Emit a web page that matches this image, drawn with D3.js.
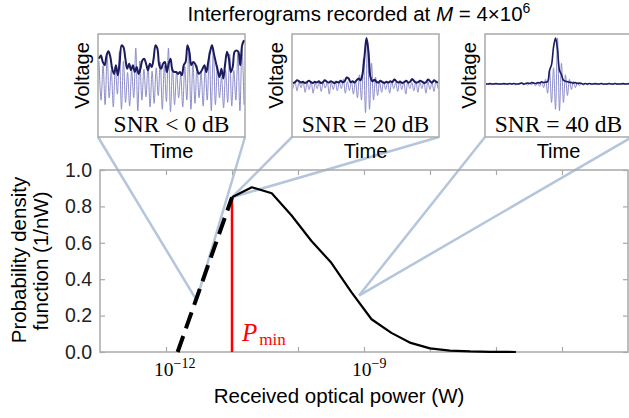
<!DOCTYPE html>
<html>
<head>
<meta charset="utf-8">
<script src="https://cdn.jsdelivr.net/npm/d3@7"></script>
<style>
  body { margin: 0; background: #fff; }
  text { font-family: "Liberation Sans", Arial, sans-serif; }
  .serif { font-family: "Liberation Serif", "Times New Roman", serif; }
</style>
</head>
<body>
<script>
// main curve: probability density vs received power
var powerSolid = [1e-11, 2e-11, 4e-11, 8e-11, 1.6e-10, 3.2e-10, 6.4e-10, 1.3e-9, 2.6e-9, 5.1e-9, 1e-8, 2e-8, 4.1e-8, 8.2e-8, 2e-7];
var pdfSolid = [0.85, 0.905, 0.872, 0.75, 0.61, 0.49, 0.33, 0.18, 0.105, 0.05, 0.02, 0.008, 0.003, 0.001, 0.0];
var powerDashed = [1.5e-12, 1e-11];
var pdfDashed = [0.0, 0.85];
var pMin = 1e-11;
var pMinPdf = 0.85;

var xTickValues = [1e-12, 1e-11, 1e-10, 1e-9, 1e-8, 1e-7, 1e-6];
var xTickLabels = {'1e-12': '\u221212', '1e-9': '\u22129', '1e-6': '\u22126'};
var yTickValues = [0, 0.2, 0.4, 0.6, 0.8, 1.0];

// where each inset points to on the curve
var markerPower = [2.9e-12, 1e-11, 8.4e-10];
var markerPdf = [0.285, 0.85, 0.31];
var insetLabels = ['SNR < 0 dB', 'SNR = 20 dB', 'SNR = 40 dB'];

// interferogram traces (voltage, arb.)
var snr0Envelope = [0.55,0.62,0.48,0.41,0.62,0.71,0.59,0.33,0.22,0.41,0.19,0.48,0.84,0.80,0.55,0.33,0.44,0.30,0.41,0.26,0.37,0.22,0.33,0.51,0.55,0.44,0.30,0.44,0.37,0.55,0.84,0.77,0.41,0.33,0.44,0.48,0.26,0.44,0.55,
  0.30,0.26,0.26,0.22,0.26,0.19,0.41,0.48,0.84,0.70,0.41,0.48,0.44,0.33,0.22,0.26,0.33,0.41,0.26,0.48,0.70,0.84,0.66,0.48,0.30,0.15,0.33,0.12,0.44,0.70,0.55,0.26,0.37,0.70,0.73,0.70,0.41,0.84,0.95];
var snr0Fringe = [0.50,-0.35,0.40,-0.45,0.62,-0.30,0.30,-0.50,0.38,-0.22,0.70,-0.55,0.50,-0.40,0.25,-0.48,0.30,-0.30,0.78,-0.58,0.50,-0.35,0.32,-0.28,0.40,-0.50,0.28,-0.42,0.35,-0.25,0.48,-0.55,0.40,-0.38,0.78,-0.60,
  0.35,-0.45,0.28,-0.30,0.20,-0.50,0.38,-0.35,0.78,-0.55,0.45,-0.42,0.40,-0.30,0.25,-0.48,0.35,-0.35,0.70,-0.58,0.78,-0.45,0.40,-0.30,0.15,-0.52,0.30,-0.40,0.65,-0.48,0.30,-0.35,0.68,-0.58,0.80,-0.45];
var snr20Envelope = [0.02,0.04,0.08,0.06,0.03,0.05,0.02,0.04,0.07,0.04,0.02,0.05,0.03,0.06,0.02,0.04,0.08,0.05,0.03,0.06,
  0.04,0.02,0.05,0.03,0.07,0.04,0.06,0.14,0.12,0.04,0.06,0.03,0.08,0.12,0.08,0.22,0.60,1.00,0.70,0.15,
  0.06,0.09,0.05,0.03,0.07,0.04,0.02,0.05,0.03,0.06,0.04,0.10,0.06,0.03,0.05,0.02,0.04,0.07,0.03,0.05,
  0.11,0.06,0.03,0.04,0.07,0.05,0.02,0.04,0.10,0.06,0.03,0.08,0.05,0.03];
var snr20Fringe = [-0.10,0.05,-0.15,0.04,-0.08,0.06,-0.18,0.03,-0.12,0.05,-0.20,0.02,-0.10,0.06,-0.16,0.04,-0.09,0.05,-0.22,0.03,
  -0.12,0.07,-0.15,0.04,-0.10,0.10,-0.20,0.05,-0.14,0.06,-0.22,0.08,-0.30,0.20,-0.35,0.55,-0.62,0.95,-0.55,0.45,
  -0.35,0.15,-0.25,0.05,-0.18,0.06,-0.12,0.04,-0.20,0.05,-0.10,0.03,-0.16,0.08,-0.12,0.04,-0.22,0.05,-0.10,0.03,
  -0.15,0.07,-0.18,0.04,-0.10,0.06,-0.20,0.05,-0.12,0.03,-0.16,0.06,-0.10];
var snr40Envelope = [0,0,0.01,0,0,0.01,0,0,0,0.01,0,0,0.01,0,0.01,0,0,0.01,0.02,0,
  0.01,0.02,0.01,0.03,0.02,0.01,0.03,0.02,0.05,0.03,0.04,0.05,0.30,0.42,0.80,1.00,0.75,0.30,0.20,0.08,
  0.06,0.05,0.04,0.03,0.02,0.03,0.01,0.02,0.01,0,0.01,0,0.01,0,0,0.01,0,0,0.01,0,
  0,0,0.01,0,0,0.01,0,0,0,0.01,0,0,0.01,0];
var snr40Fringe = [0.01,-0.01,0.00,-0.01,0.01,-0.01,0.01,0.00,0.01,-0.01,0.00,-0.01,0.01,-0.01,0.01,-0.02,0.01,-0.01,0.02,-0.02,
  0.01,-0.03,0.02,-0.02,0.03,-0.04,0.02,-0.05,0.05,-0.08,0.10,-0.20,0.30,-0.40,0.35,-0.55,1.00,-0.58,0.45,-0.40,
  0.20,-0.25,0.10,-0.12,0.06,-0.08,0.04,-0.04,0.02,-0.03,0.01,-0.02,0.01,-0.01,0.01,-0.01,0.00,-0.01,0.01,-0.01,
  0.00,-0.01,0.01,0.00,-0.01,0.01,-0.01,0.00,0.01,-0.01,0.00,0.01,-0.01,0.00];

var envelopes = [snr0Envelope, snr20Envelope, snr40Envelope];
var fringes = [snr0Fringe, snr20Fringe, snr40Fringe];

var width = 629;
var height = 418;

var margin = {
    top: 170,
    bottom: 66,
    left: 100,
    right: 1
};

var svg = d3.select('body')
    .append('svg')
    .attr('width', width)
    .attr('height', height);

var x_scale = d3.scaleLog()
    .domain([1e-13, 1e-5])
    .range([margin.left, width - margin.right]);

var y_scale = d3.scaleLinear()
    .domain([0, 1])
    .range([height - margin.bottom, margin.top]);

var frameColor = '#a9a9a9';
var linkColor = '#b5c5dc';

// inset geometry
var insetLeft = [98, 292, 485];
var insetTop = 34;
var insetW = 147;
var insetH = 103;

// connector lines from inset corners to the curve
var links = svg.append('g');
insetLeft.forEach(function(left, i) {
    var px = x_scale(markerPower[i]);
    var py = y_scale(markerPdf[i]);
    [left, left + insetW].forEach(function(cx) {
        links.append('line')
            .attr('x1', cx).attr('y1', insetTop + insetH)
            .attr('x2', px).attr('y2', py)
            .attr('stroke', linkColor)
            .attr('stroke-width', 2.5);
    });
});

// insets
var defs = svg.append('defs');
insetLeft.forEach(function(left, i) {
    defs.append('clipPath').attr('id', 'clip' + i)
        .append('rect')
        .attr('x', left).attr('y', insetTop)
        .attr('width', insetW).attr('height', insetH);

    var g = svg.append('g');
    g.append('rect')
        .attr('x', left).attr('y', insetTop)
        .attr('width', insetW).attr('height', insetH)
        .attr('fill', '#fff')
        .attr('stroke', frameColor)
        .attr('stroke-width', 1.5);

    var vy = d3.scaleLinear().domain([0, 1]).range([insetTop + 50, insetTop + 4]);
    var fx = d3.scaleLinear().domain([0, fringes[i].length - 1]).range([left + 1, left + insetW - 1]);
    var ex = d3.scaleLinear().domain([0, envelopes[i].length - 1]).range([left + 1, left + insetW - 1]);

    var wave = g.append('g').attr('clip-path', 'url(#clip' + i + ')');
    wave.append('path')
        .datum(fringes[i])
        .attr('fill', 'none')
        .attr('stroke', '#8c8cc9')
        .attr('stroke-width', 1)
        .attr('d', d3.line().x(function(d, j) { return fx(j); }).y(function(d) { return vy(d); }).curve(d3.curveCatmullRom));
    wave.append('path')
        .datum(envelopes[i])
        .attr('fill', 'none')
        .attr('stroke', '#1b1b5e')
        .attr('stroke-width', i == 2 ? 1.6 : 2)
        .attr('d', d3.line().x(function(d, j) { return ex(j); }).y(function(d) { return vy(d); }).curve(d3.curveCatmullRom));

    g.append('text')
        .attr('class', 'serif')
        .attr('x', left + insetW / 2)
        .attr('y', insetTop + 97.5)
        .attr('text-anchor', 'middle')
        .style('font-size', '23.5px')
        .text(insetLabels[i]);

    g.append('text')
        .attr('transform', 'translate(' + (left - 9) + ',' + (insetTop + insetH / 2 - 10) + ') rotate(-90)')
        .attr('text-anchor', 'middle')
        .style('font-size', '20px')
        .text('Voltage');

    g.append('text')
        .attr('x', left + insetW / 2)
        .attr('y', insetTop + insetH + 21)
        .attr('text-anchor', 'middle')
        .style('font-size', '20px')
        .text('Time');
});

// title
var title = svg.append('text')
    .attr('x', 359)
    .attr('y', 21)
    .attr('text-anchor', 'middle')
    .style('font-size', '20.5px');
title.append('tspan').text('Interferograms recorded at ');
title.append('tspan').style('font-style', 'italic').text('M');
title.append('tspan').text(' = 4\u00d710');
title.append('tspan').attr('dy', -8).style('font-size', '14px').text('6');

// frame + ticks on all sides
svg.append('rect')
    .attr('x', margin.left).attr('y', margin.top)
    .attr('width', width - margin.right - margin.left)
    .attr('height', height - margin.bottom - margin.top)
    .attr('fill', 'none')
    .attr('stroke', frameColor)
    .attr('stroke-width', 1.5);

var x_axis = d3.axisBottom(x_scale).tickValues(xTickValues).tickSize(-5).tickFormat('');
var x_axis_top = d3.axisTop(x_scale).tickValues(xTickValues).tickSize(-5).tickFormat('');
var y_axis = d3.axisLeft(y_scale).tickValues(yTickValues).tickSize(-5).tickPadding(8).tickFormat(d3.format('.1f'));
var y_axis_right = d3.axisRight(y_scale).tickValues(yTickValues).tickSize(-5).tickFormat('');

svg.append('g').attr('class', 'x axis').attr('transform', 'translate(0,' + (height - margin.bottom) + ')').call(x_axis);
svg.append('g').attr('class', 'x axis').attr('transform', 'translate(0,' + margin.top + ')').call(x_axis_top);
svg.append('g').attr('class', 'y axis').attr('transform', 'translate(' + margin.left + ',0)').call(y_axis);
svg.append('g').attr('class', 'y axis').attr('transform', 'translate(' + (width - margin.right) + ',0)').call(y_axis_right);

svg.selectAll('.axis .domain').remove();
svg.selectAll('.axis line').attr('stroke', frameColor).attr('stroke-width', 1.2);
svg.selectAll('.y.axis text')
    .attr('fill', '#222')
    .style('font-family', '"Liberation Sans", Arial, sans-serif')
    .style('font-size', '19.5px');

// decade labels 10^n
xTickValues.forEach(function(v) {
    var key = v.toExponential().replace('e', 'e').replace('1e', '1e');
    var sup = xTickLabels[String(v)];
    if (!sup) return;
    var t = svg.append('text')
        .attr('class', 'serif')
        .attr('x', x_scale(v) - 12)
        .attr('y', height - margin.bottom + 24)
        .style('font-size', '19.5px');
    t.append('tspan').text('10');
    t.append('tspan').attr('dy', -8).style('font-size', '14px').text(sup);
});

// axis titles
svg.append('text')
    .attr('x', 339)
    .attr('y', 403)
    .attr('text-anchor', 'middle')
    .style('font-size', '20.5px')
    .text('Received optical power (W)');

svg.append('text')
    .attr('transform', 'translate(26,260) rotate(-90)')
    .attr('text-anchor', 'middle')
    .style('font-size', '20.5px')
    .text('Probability density');

svg.append('text')
    .attr('transform', 'translate(48,261) rotate(-90)')
    .attr('text-anchor', 'middle')
    .style('font-size', '20.5px')
    .text('function (1/nW)');

// P_min marker
svg.append('line')
    .attr('x1', x_scale(pMin)).attr('x2', x_scale(pMin))
    .attr('y1', y_scale(0)).attr('y2', y_scale(pMinPdf))
    .attr('stroke', '#ff0000')
    .attr('stroke-width', 2.5);

var pLabel = svg.append('text')
    .attr('class', 'serif')
    .attr('x', x_scale(pMin) + 10)
    .attr('y', 341)
    .attr('fill', '#ff0000')
    .style('font-size', '25px');
pLabel.append('tspan').style('font-style', 'italic').text('P');
pLabel.append('tspan').attr('dx', 2).attr('dy', 4).style('font-size', '17px').text('min');

// curve
var line = d3.line()
    .x(function(d) { return x_scale(d[0]); })
    .y(function(d) { return y_scale(d[1]); });

svg.append('path')
    .datum(d3.zip(powerDashed, pdfDashed))
    .attr('fill', 'none')
    .attr('stroke', '#000')
    .attr('stroke-width', 4)
    .attr('stroke-dasharray', '17,8')
    .attr('d', line);

svg.append('path')
    .datum(d3.zip(powerSolid, pdfSolid))
    .attr('fill', 'none')
    .attr('stroke', '#000')
    .attr('stroke-width', 2.2)
    .attr('stroke-linejoin', 'round')
    .attr('d', line);
</script>
</body>
</html>
